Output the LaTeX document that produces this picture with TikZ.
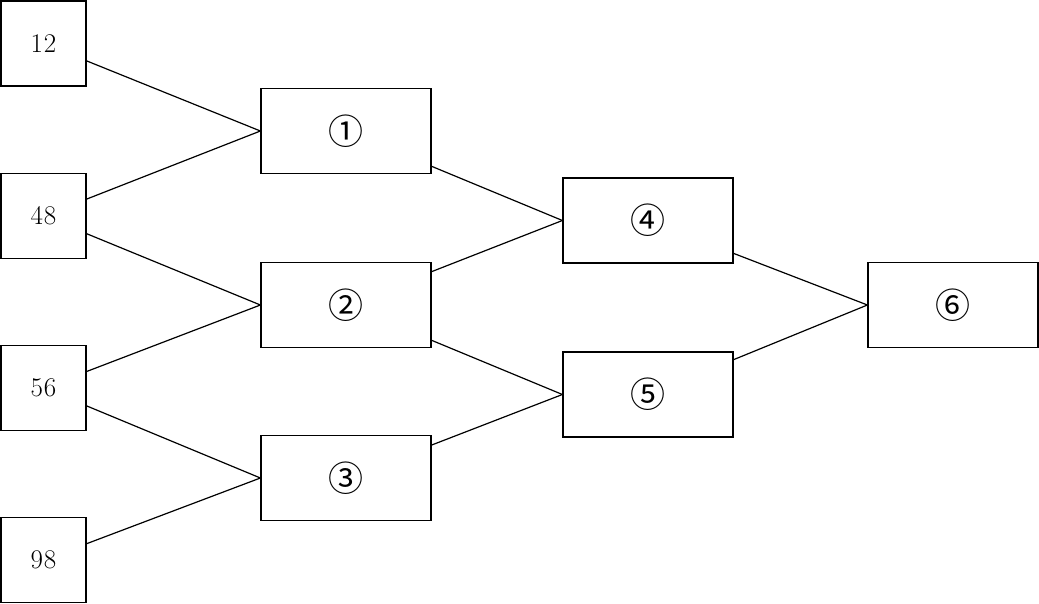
\documentclass[tikz,border=0pt]{standalone}
\usepackage{fontspec}
\newfontfamily\circfont{Noto Sans CJK JP}
\begin{document}
\begin{tikzpicture}[x=1pt,y=-1pt,
  box/.style={draw, line width=1.2pt, inner sep=0pt, font=\fontsize{27}{31}\selectfont},
  sbox/.style={box, minimum width=85pt, minimum height=85pt},
  wbox/.style={box, minimum width=170pt, minimum height=85pt, font=\circfont\fontsize{35}{40}\selectfont},
  link/.style={line width=1.2pt}]
\useasboundingbox (0,0) rectangle (1039,604);
\node[sbox] (a) at (43.5,43.5) {1\kern1pt2};
\node[sbox] (b) at (43.5,216) {4\kern1pt8};
\node[sbox] (c) at (43.5,388) {5\kern1pt6};
\node[sbox] (d) at (43.5,560) {9\kern1pt8};
\node[wbox] (n1) at (346,131) {①};
\node[wbox] (n2) at (346,305) {②};
\node[wbox] (n3) at (346,478) {③};
\node[wbox] (n4) at (648,220.5) {④};
\node[wbox] (n5) at (648,394.5) {⑤};
\node[wbox] (n6) at (953,305) {⑥};
\draw[link] (a) -- (n1.west);
\draw[link] (b) -- (n1.west);
\draw[link] (b) -- (n2.west);
\draw[link] (c) -- (n2.west);
\draw[link] (c) -- (n3.west);
\draw[link] (d) -- (n3.west);
\draw[link] (n1) -- (n4.west);
\draw[link] (n2) -- (n4.west);
\draw[link] (n2) -- (n5.west);
\draw[link] (n3) -- (n5.west);
\draw[link] (n4) -- (n6.west);
\draw[link] (n5) -- (n6.west);
\end{tikzpicture}
\end{document}
